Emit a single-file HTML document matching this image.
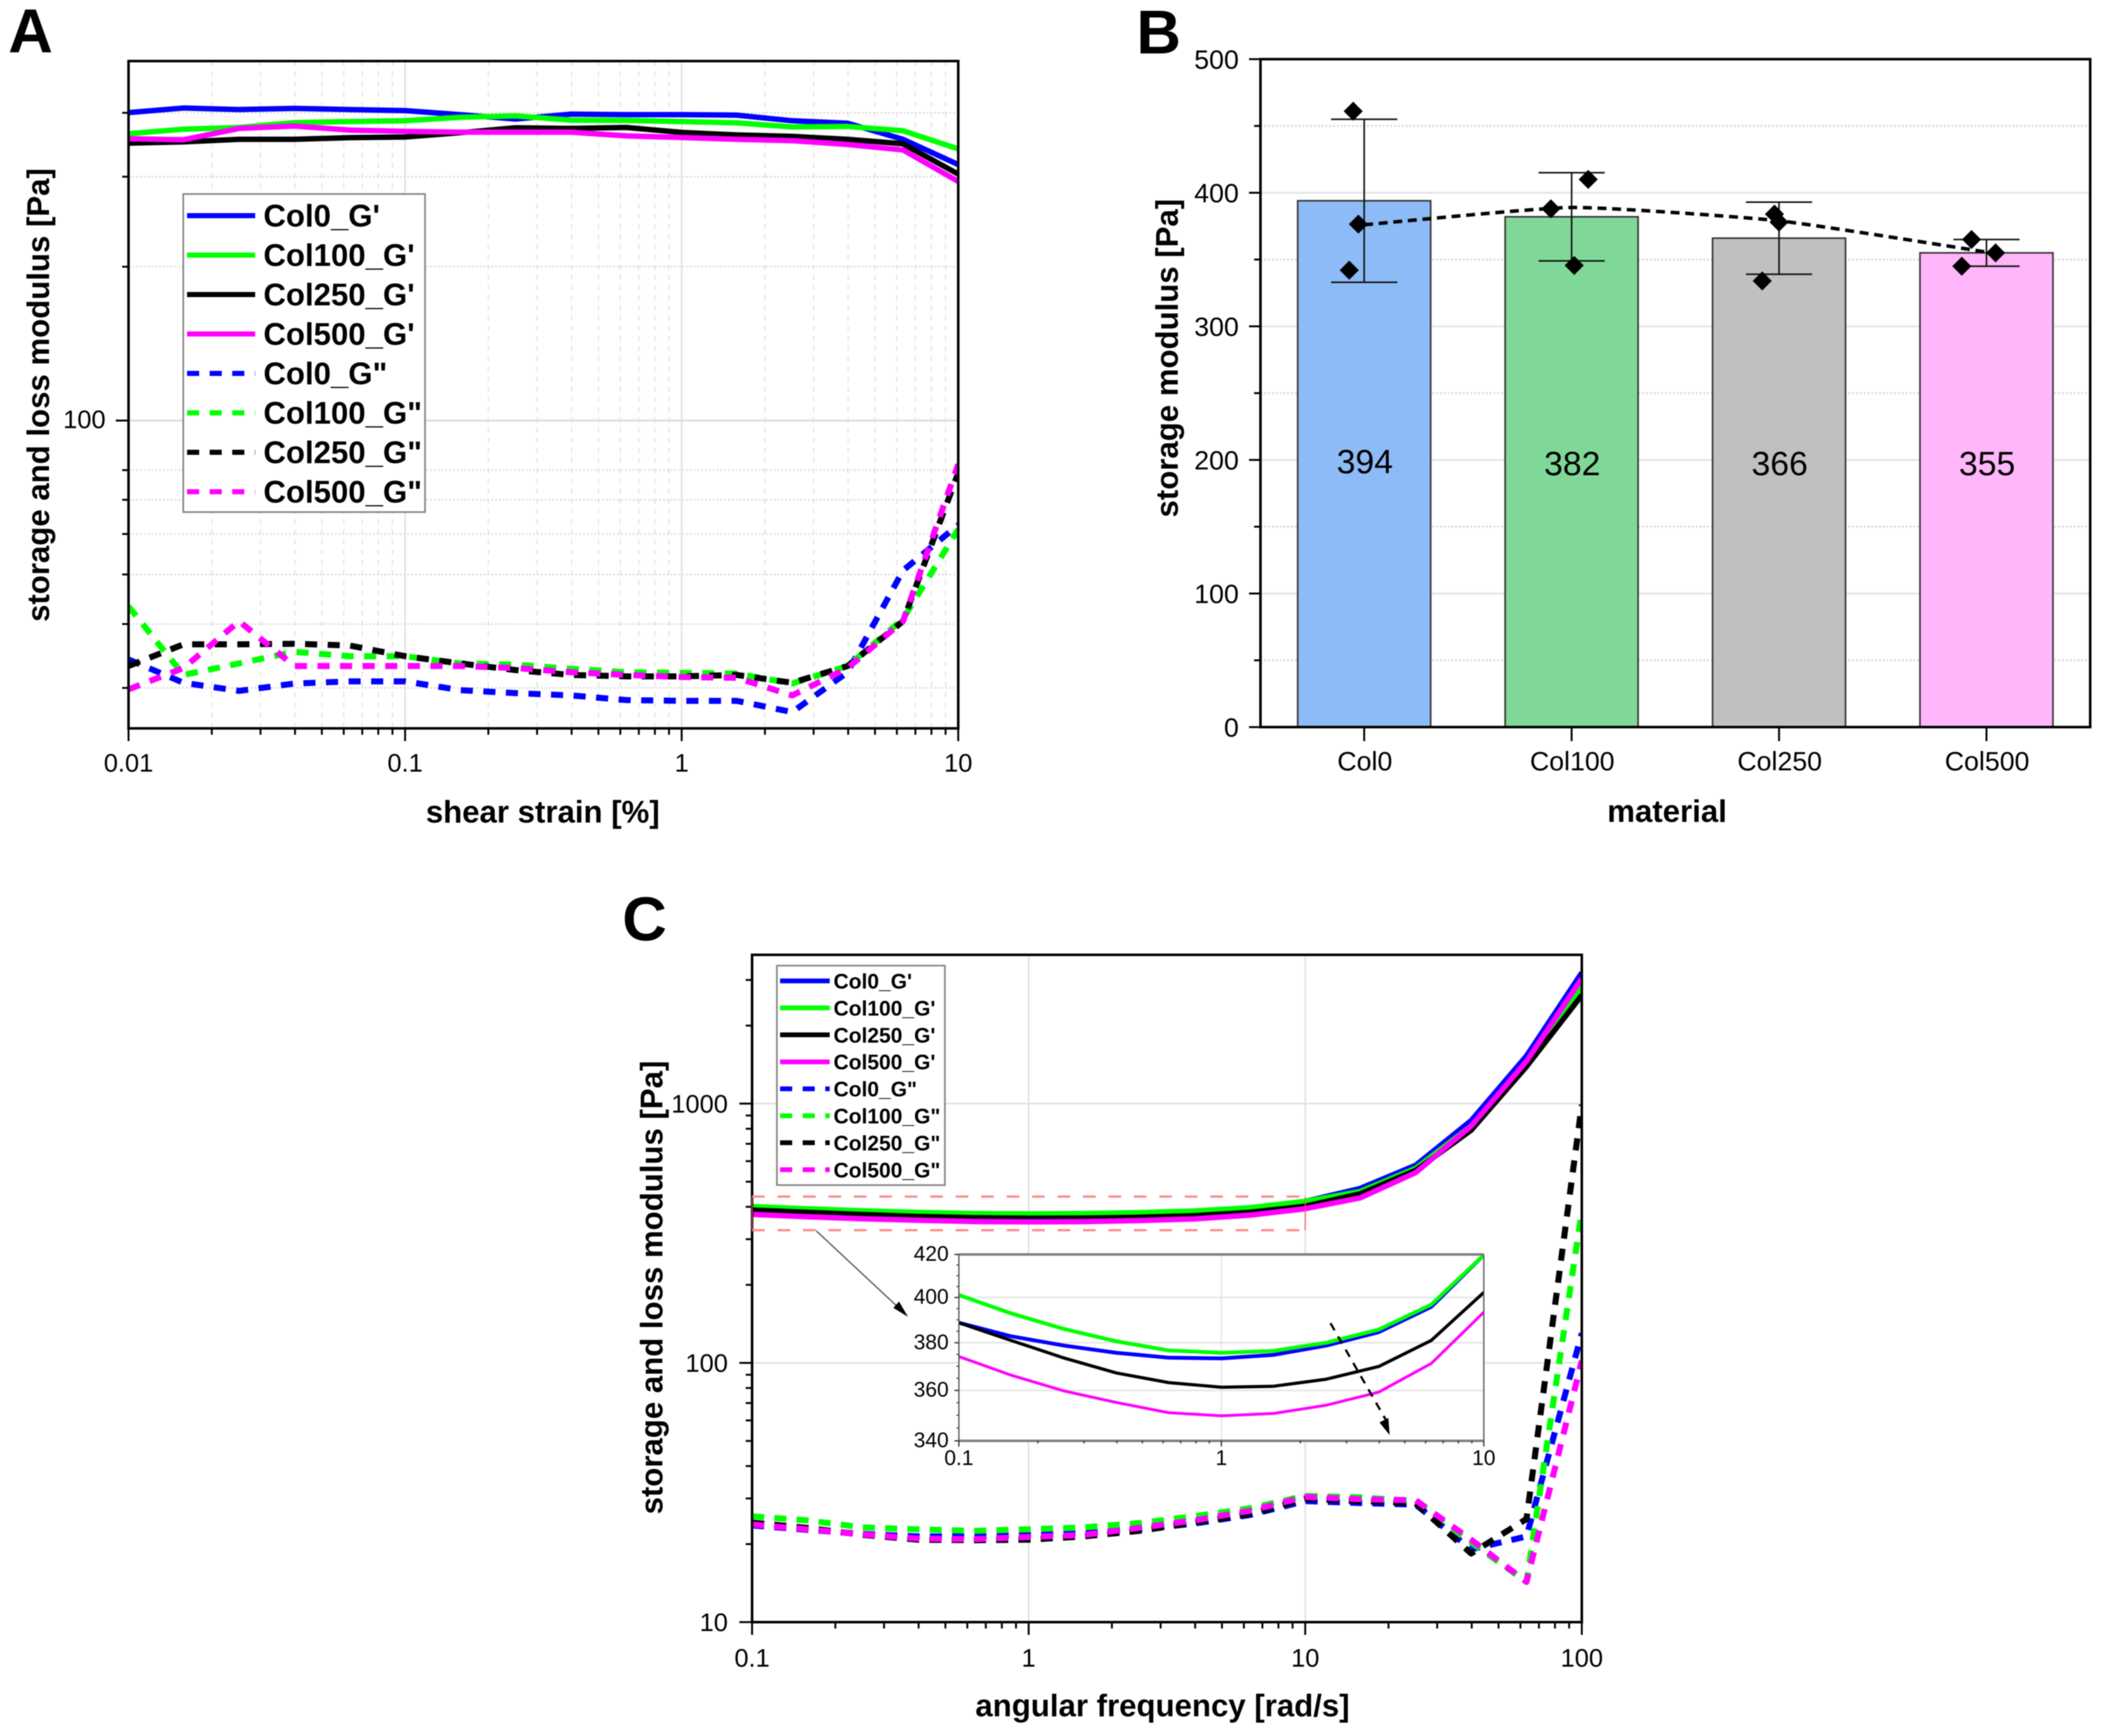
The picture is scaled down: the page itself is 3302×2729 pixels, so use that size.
<!DOCTYPE html>
<html lang="en">
<head>
<meta charset="utf-8">
<title>Rheology of collagen-containing materials</title>
<style>
html,body{margin:0;padding:0;background:#fff}
svg{display:block;font-family:"Liberation Sans",Arial,sans-serif;filter:blur(0.7px)}
.ttl{font-weight:700;font-size:49px;fill:#000}
.ltr{font-weight:700;font-size:97px;fill:#000}
</style>
</head>
<body>
<svg id="figure" xmlns="http://www.w3.org/2000/svg" width="3302" height="2729" viewBox="0 0 3302 2729">
  <defs>
    <clipPath id="clip-a"><rect x="202" y="96" width="1304" height="1049"/></clipPath>
    <clipPath id="clip-c"><rect x="1182" y="1501" width="1304" height="1049"/></clipPath>
    <clipPath id="clip-i"><rect x="1507" y="1972" width="825" height="293"/></clipPath>
  </defs>
  <rect width="3302" height="2729" fill="#fff"/>

  <g id="panel-a"></g>
  <g id="panel-b"></g>
  <g id="panel-c"></g>

  <text class="ltr" x="13" y="82">A</text>
  <text class="ltr" x="1786" y="84">B</text>
  <text class="ltr" x="978" y="1478">C</text>

  <text class="ttl" transform="translate(77,621) rotate(-90)" text-anchor="middle">storage and loss modulus [Pa]</text>
  <text class="ttl" x="853" y="1293" text-anchor="middle">shear strain [%]</text>
  <text class="ttl" transform="translate(1851,563) rotate(-90)" text-anchor="middle">storage modulus [Pa]</text>
  <text class="ttl" x="2620" y="1292" text-anchor="middle">material</text>
  <text class="ttl" transform="translate(1041,2024) rotate(-90)" text-anchor="middle">storage and loss modulus [Pa]</text>
  <text class="ttl" x="1827" y="2698" text-anchor="middle">angular frequency [rad/s]</text>
</svg>

<script>
/* ---------- Panel A data: amplitude sweep ---------- */
const strainValues = [0.01,0.0158,0.0251,0.0398,0.0631,0.1,0.158,0.251,0.398,0.631,1,1.58,2.51,3.98,6.31,10];
const aCol0Storage   = [400.4,408.8,406,408,406,404,396.6,389,397.7,396.6,396.6,395.8,386,381.7,355,316.8];
const aCol100Storage = [364,371.5,374.4,382.8,384.6,386,392,394.6,387,386.5,384.6,382.4,375.4,376.2,369,340];
const aCol250Storage = [349,351,355,355,357.7,358.7,365.6,373.9,372.8,374.4,366.3,362.1,359.7,355,348,303.5];
const aCol500Storage = [356,354.3,372.8,376.9,370.1,368,366.7,366.7,366.7,360.5,358,355,352.9,346.9,338.4,293.6];
const aCol0Loss   = [34.1,30.7,29.6,30.6,30.9,30.9,29.7,29.3,29.0,28.4,28.3,28.3,26.9,32.2,50.9,62.5];
const aCol100Loss = [43.3,31.8,33.5,35.3,34.6,34.6,33.5,33.3,32.7,32.2,32.1,32.0,30.6,33.1,40.9,61.3];
const aCol250Loss = [33.1,36.5,36.5,36.6,36.3,34.6,33.5,32.5,31.8,31.6,31.6,31.8,30.7,33.1,40.5,79.0];
const aCol500Loss = [29.8,32.8,40.5,33.1,33.1,33.1,33.1,32.8,32.2,31.8,31.5,31.4,29.0,32.8,40.5,82.1];
const aXTickLabels = ["0.01","0.1","1","10"];
const aXMajorTicks = [0.01,0.1,1,10];
const aYMajorTicks = [100];
const aYMinorTicks = [30,40,50,60,70,80,200,300,400];

/* ---------- Panel B data: storage modulus bars ---------- */
const bCategories = ["Col0","Col100","Col250","Col500"];
const bMeans = [394,382,366,355];
const bErrorUpper = [455,415,393,365];
const bErrorLower = [333,349,339,345];
const bReplicates = [[461,376.5,342],[388,410,345.6],[384,378,334],[365,355,345]];
const bJitter = [[-0.053,-0.028,-0.072],[-0.1,0.08,0.0125],[-0.022,0,-0.081],[-0.072,0.044,-0.119]];
const bTrend = [376,389,379,355.6];
const bYMajorTicks = [0,100,200,300,400,500];
const bYMinorTicks = [50,150,250,350,450];

/* ---------- Panel C data: frequency sweep ---------- */
const freqValues = [0.1,0.158,0.251,0.398,0.631,1,1.58,2.51,3.98,6.31,10,15.8,25.1,39.8,63.1,100];
const cCol0Storage   = [388.7,382.8,378.8,375.7,373.6,373.3,374.8,378.8,384.6,395.8,419.7,471,579,860,1528,3200];
const cCol100Storage = [401.1,392.9,386,380.6,376.7,375.7,376.5,380,385.7,396.8,419.7,458,563,820,1417,2800];
const cCol250Storage = [388.7,381,373.5,367.2,363.2,361.3,361.7,364.6,369.9,381,402.3,449,553,790,1390,2620];
const cCol500Storage = [374.1,366.3,359.8,355.1,351,349.8,350.7,354,359.3,371.2,393.4,433,542,820,1457,3040];
const cCol0Loss   = [23.6,22.7,21.9,21.4,21.4,21.7,22.1,22.8,24.0,25.9,29.3,28.8,28.4,19.1,21.4,130];
const cCol100Loss = [25.6,24.7,23.2,22.8,22.5,22.8,23.2,24.1,25.6,27.5,30.7,30.3,29.3,20.3,14.3,385];
const cCol250Loss = [24.2,23.1,21.7,20.8,20.7,20.8,21.4,22.5,24.2,26.1,29.9,29.3,28.7,18.4,25.0,990];
const cCol500Loss = [23.8,22.8,21.8,21.0,20.9,21.3,21.7,23.1,24.7,26.9,30.4,29.8,29.5,20.8,14.3,102];
const cXMajorTicks = [0.1,1,10,100];
const cXTickLabels = ["0.1","1","10","100"];
const cYMajorTicks = [10,100,1000];
const cYTickLabels = ["10","100","1000"];
const insetXMajorTicks = [0.1,1,10];
const insetXTickLabels = ["0.1","1","10"];
const insetYTicks = [340,360,380,400,420];
const zoomBoxValues = [325,438];
const zoomBoxFreq = [0.1,10];

/* ---------- Shared labels and styles ---------- */
const legendLabels = ["Col0_G'","Col100_G'","Col250_G'","Col500_G'",'Col0_G"','Col100_G"','Col250_G"','Col500_G"'];
const seriesColors = ["#0000ff","#00ff00","#000000","#ff00ff"];
const barColors = ["#8dbbf7","#80d898","#c0c0c0","#ffb6fb"];

const NS = "http://www.w3.org/2000/svg";
function mk(tag, attrs, parent, content) {
  const el = document.createElementNS(NS, tag);
  for (const k in attrs) el.setAttribute(k, attrs[k]);
  if (content !== undefined) el.textContent = content;
  parent.appendChild(el);
  return el;
}
function logScale(d0, d1, p0, p1) {
  const a = Math.log10(d0), b = Math.log10(d1);
  return v => p0 + (Math.log10(v) - a) / (b - a) * (p1 - p0);
}
function linScale(d0, d1, p0, p1) {
  return v => p0 + (v - d0) / (d1 - d0) * (p1 - p0);
}
function drawLine(parent, x1, y1, x2, y2, stroke, width, dash, name) {
  const el = mk("line", {x1, y1, x2, y2, stroke, "stroke-width": width}, parent);
  if (dash) el.setAttribute("stroke-dasharray", dash);
  
  
  return el;
}
function drawLabel(parent, x, y, str, size, anchor, name) {
  const el = mk("text", {x, y, "font-size": size, "text-anchor": anchor, fill: "#000"}, parent, str);
  
  
  return el;
}
function drawSeries(parent, xs, ys, sx, sy, color, width, dash, clip, name) {
  let d = "";
  xs.forEach((x, i) => { d += (i ? "L" : "M") + sx(x).toFixed(1) + " " + sy(ys[i]).toFixed(1); });
  const el = mk("path", {d, fill: "none", stroke: color, "stroke-width": width, "stroke-linejoin": "round", "clip-path": "url(#" + clip + ")"}, parent);
  if (dash) el.setAttribute("stroke-dasharray", dash);
  
  
  return el;
}
function drawFrame(parent, x, y, w, h, stroke, width, name) {
  const el = mk("rect", {x, y, width: w, height: h, fill: "none", stroke, "stroke-width": width}, parent);
  
  
  return el;
}
function decadeMinors(d0, d1) {
  const out = [];
  for (let e = Math.floor(Math.log10(d0)); e < Math.ceil(Math.log10(d1)); e++) {
    for (let m = 2; m <= 9; m++) {
      const v = m * Math.pow(10, e);
      if (v > d0 && v < d1) out.push(v);
    }
  }
  return out;
}
function drawLegend(parent, box, rowStart, rowStep, lineX0, lineX1, textX, fontSize, lineW, baseShift, name) {
  const g = mk("g", {}, parent);
  
  
  const bg = mk("rect", {x: box[0], y: box[1], width: box[2], height: box[3], fill: "#fff", stroke: "#808080", "stroke-width": 2.5}, g);
  
  
  legendLabels.forEach((label, i) => {
    const y = rowStart + i * rowStep;
    const dashed = i >= 4;
    drawLine(g, lineX0, y, lineX1, y, seriesColors[i % 4], lineW, dashed ? "19 16.5" : null, "legend-swatch");
    drawLabel(g, textX, y + baseShift, label, fontSize, "start", "legend-entry").setAttribute("font-weight", "700");
  });
}

/* ---------- Panel A ---------- */
(function () {
  const p = document.getElementById("panel-a");
  const L = 202, R = 1506, T = 96, B = 1145;
  const sx = logScale(0.01, 10, L, R);
  const sy = logScale(25, 505, B, T);
  decadeMinors(0.01, 10).forEach(v => drawLine(p, sx(v), T, sx(v), B, "#e4e4e4", 2, "8 8", "x-minor-gridline"));
  aYMinorTicks.forEach(v => drawLine(p, L, sy(v), R, sy(v), "#dcdcdc", 2.5, "3 3", "y-minor-gridline"));
  aXMajorTicks.slice(1, 3).forEach(v => drawLine(p, sx(v), T, sx(v), B, "#e0e0e0", 2.5, null, "x-major-gridline"));
  aYMajorTicks.forEach(v => drawLine(p, L, sy(v), R, sy(v), "#dcdcdc", 3, null, "y-major-gridline"));

  [aCol0Loss, aCol100Loss, aCol250Loss, aCol500Loss].forEach((s, i) =>
    drawSeries(p, strainValues, s, sx, sy, seriesColors[i], 9.5, "19 16.5", "clip-a", "series-loss-" + legendLabels[i].split("_")[0].toLowerCase()));
  [aCol0Storage, aCol100Storage, aCol250Storage, aCol500Storage].forEach((s, i) =>
    drawSeries(p, strainValues, s, sx, sy, seriesColors[i], 8.5, null, "clip-a", "series-storage-" + legendLabels[i].split("_")[0].toLowerCase()));

  drawFrame(p, L, T, R - L, B - T, "#000", 4, "panel-a-frame");
  decadeMinors(0.01, 10).forEach(v => drawLine(p, sx(v), B, sx(v), B + 10, "#000", 3, null, "x-minor-tick"));
  aXMajorTicks.forEach((v, i) => {
    drawLine(p, sx(v), B, sx(v), B + 20, "#000", 3, null, "x-major-tick");
    drawLabel(p, sx(v), 1213, aXTickLabels[i], 40, "middle", "x-tick-label");
  });
  aYMinorTicks.forEach(v => drawLine(p, L - 10, sy(v), L, sy(v), "#000", 3, null, "y-minor-tick"));
  aYMajorTicks.forEach(v => {
    drawLine(p, L - 20, sy(v), L, sy(v), "#000", 3, null, "y-major-tick");
    drawLabel(p, 166, sy(v) + 12, String(v), 40, "end", "y-tick-label");
  });
  drawLegend(p, [288, 305, 380, 500], 339, 62, 294, 401, 414, 49, 8, 17, "panel-a-legend");
})();

/* ---------- Panel B ---------- */
(function () {
  const p = document.getElementById("panel-b");
  const L = 1981, R = 3285, T = 93, B = 1143;
  const sy = linScale(0, 500, B, T);
  const sx = linScale(0, 4, L, R);
  const cx = i => sx(i + 0.5);
  const barW = 209;

  bYMinorTicks.forEach(v => drawLine(p, L, sy(v), R, sy(v), "#dadada", 3, "3 3", "y-minor-gridline"));
  bYMajorTicks.slice(1, 5).forEach(v => drawLine(p, L, sy(v), R, sy(v), "#e6e6e6", 3, null, "y-major-gridline"));

  bCategories.forEach((c, i) => {
    const bar = mk("rect", {x: cx(i) - barW / 2, y: sy(bMeans[i]), width: barW, height: sy(0) - sy(bMeans[i]), fill: barColors[i], stroke: "#333", "stroke-width": 2.5}, p);
    
    
    drawLabel(p, cx(i) + 1, i === 0 ? 744 : 747, String(bMeans[i]), 53, "middle", "bar-value-label");
  });

  bCategories.forEach((c, i) => {
    const x = cx(i);
    drawLine(p, x, sy(bErrorUpper[i]), x, sy(bErrorLower[i]), "#111", 2.5, null, "error-bar-stem");
    drawLine(p, x - 52, sy(bErrorUpper[i]), x + 52, sy(bErrorUpper[i]), "#111", 2.5, null, "error-bar-cap-upper");
    drawLine(p, x - 52, sy(bErrorLower[i]), x + 52, sy(bErrorLower[i]), "#111", 2.5, null, "error-bar-cap-lower");
  });

  const pts = bTrend.map((v, i) => [cx(i), sy(v)]);
  let d = "M" + pts[0][0] + " " + pts[0][1];
  for (let i = 0; i < pts.length - 1; i++) {
    const p0 = pts[Math.max(i - 1, 0)], p1 = pts[i], p2 = pts[i + 1], p3 = pts[Math.min(i + 2, pts.length - 1)];
    d += "C" + (p1[0] + (p2[0] - p0[0]) / 12) + " " + (p1[1] + (p2[1] - p0[1]) / 12) + " " +
         (p2[0] - (p3[0] - p1[0]) / 12) + " " + (p2[1] - (p3[1] - p1[1]) / 12) + " " + p2[0] + " " + p2[1];
  }
  const trend = mk("path", {d, fill: "none", stroke: "#000", "stroke-width": 5.5, "stroke-dasharray": "14 9"}, p);
  
  

  bReplicates.forEach((vals, i) => vals.forEach((v, j) => {
    const x = cx(i) + bJitter[i][j] * (R - L) / 4, y = sy(v), r = 15;
    const dm = mk("polygon", {points: [x, y - r, x + r, y, x, y + r, x - r, y].join(" "), fill: "#000"}, p);
    
    
  }));

  drawFrame(p, L, T, R - L, B - T, "#000", 4, "panel-b-frame");
  bYMinorTicks.forEach(v => drawLine(p, L - 10, sy(v), L, sy(v), "#000", 3, null, "y-minor-tick"));
  bYMajorTicks.forEach(v => {
    drawLine(p, L - 18, sy(v), L, sy(v), "#000", 3, null, "y-major-tick");
    drawLabel(p, 1947, sy(v) + 15, String(v), 42, "end", "y-tick-label");
  });
  bCategories.forEach((c, i) => {
    drawLine(p, cx(i), B, cx(i), B + 22, "#000", 3, null, "x-tick");
    drawLabel(p, cx(i) + 1, 1211, c, 42, "middle", "x-tick-label");
  });
})();

/* ---------- Panel C ---------- */
(function () {
  const p = document.getElementById("panel-c");
  const L = 1182, R = 2486, T = 1501, B = 2550;
  const sx = logScale(0.1, 100, L, R);
  const sy = logScale(10, 3750, B, T);

  cXMajorTicks.slice(1, 3).forEach(v => drawLine(p, sx(v), T, sx(v), B, "#e0e0e0", 2.5, null, "x-major-gridline"));
  cYMajorTicks.slice(1).forEach(v => drawLine(p, L, sy(v), R, sy(v), "#e0e0e0", 2.5, null, "y-major-gridline"));

  [cCol0Loss, cCol100Loss, cCol250Loss, cCol500Loss].forEach((s, i) =>
    drawSeries(p, freqValues, s, sx, sy, seriesColors[i], 9.5, "19 16", "clip-c", "series-loss-" + legendLabels[i].split("_")[0].toLowerCase()));
  [cCol0Storage, cCol100Storage, cCol250Storage, cCol500Storage].forEach((s, i) =>
    drawSeries(p, freqValues, s, sx, sy, seriesColors[i], 8.5, null, "clip-c", "series-storage-" + legendLabels[i].split("_")[0].toLowerCase()));

  drawFrame(p, L, T, R - L, B - T, "#000", 4, "panel-c-frame");
  decadeMinors(0.1, 100).forEach(v => drawLine(p, sx(v), B, sx(v), B + 10, "#000", 3, null, "x-minor-tick"));
  cXMajorTicks.forEach((v, i) => {
    drawLine(p, sx(v), B, sx(v), B + 20, "#000", 3, null, "x-major-tick");
    drawLabel(p, sx(v), 2620, cXTickLabels[i], 40, "middle", "x-tick-label");
  });
  decadeMinors(10, 3750).forEach(v => drawLine(p, L - 10, sy(v), L, sy(v), "#000", 3, null, "y-minor-tick"));
  cYMajorTicks.forEach((v, i) => {
    drawLine(p, L - 20, sy(v), L, sy(v), "#000", 3, null, "y-major-tick");
    drawLabel(p, 1144, sy(v) + 14, cYTickLabels[i], 40, "end", "y-tick-label");
  });

  /* zoom region marker */
  const zx0 = sx(zoomBoxFreq[0]), zx1 = sx(zoomBoxFreq[1]);
  const zy0 = sy(zoomBoxValues[0]), zy1 = sy(zoomBoxValues[1]);
  drawLine(p, zx0, zy1, zx1, zy1, "#ff8a8a", 3.5, "20 20", "zoom-box-top");
  drawLine(p, zx0, zy0, zx1, zy0, "#ff8a8a", 3.5, "20 20", "zoom-box-bottom");
  drawLine(p, zx0, zy0, zx0, zy1, "#ff5050", 1.5, null, "zoom-box-left");
  drawLine(p, zx1, zy0, zx1, zy1, "#ff5050", 1.5, null, "zoom-box-right");

  /* pointer arrow from the zoom region to the inset */
  drawLine(p, 1283, 1935, 1420, 2063, "#555", 2, null, "zoom-arrow-shaft");
  const zh = mk("polygon", {points: "1427,2070 1404,2056 1413,2046", fill: "#000"}, p);
  
  

  drawLegend(p, [1221, 1518, 264, 345], 1542, 42.4, 1226, 1304, 1310, 33, 7.5, 12, "panel-c-legend");

  /* inset */
  const ig = mk("g", {}, p);
  
  
  const iL = 1507, iR = 2332, iT = 1972, iB = 2265;
  const ix = logScale(0.1, 10, iL, iR);
  const iy = logScale(340, 420, iB, iT);
  const bg = mk("rect", {x: iL, y: iT, width: iR - iL, height: iB - iT, fill: "#fff"}, ig);
  
  
  drawLine(ig, ix(1), iT, ix(1), iB, "#e4e4e4", 2, null, "inset-x-gridline");
  insetYTicks.slice(1, 4).forEach(v => drawLine(ig, iL, iy(v), iR, iy(v), "#e4e4e4", 2.5, null, "inset-y-gridline"));

  const insetFreq = freqValues.slice(0, 11);
  const insetSeries = [cCol0Storage, cCol100Storage, cCol250Storage, cCol500Storage];
  const insetWidths = [6, 6, 5, 4.5];
  insetSeries.forEach((s, i) =>
    drawSeries(ig, insetFreq, s.slice(0, 11), ix, iy, seriesColors[i], insetWidths[i], null, "clip-i", "inset-series-" + legendLabels[i].split("_")[0].toLowerCase()));

  drawLine(ig, iL, iT, iR, iT, "#808080", 4, null, "inset-top-axis");
  drawLine(ig, iL, iB, iR, iB, "#808080", 4, null, "inset-bottom-axis");
  drawLine(ig, iL, iT, iL, iB, "#555", 2, null, "inset-left-axis");
  drawLine(ig, iR, iT, iR, iB, "#555", 2, null, "inset-right-axis");
  decadeMinors(0.1, 10).forEach(v => drawLine(ig, ix(v), iB, ix(v), iB + 4, "#333", 2, null, "inset-x-minor-tick"));
  insetXMajorTicks.forEach((v, i) => {
    drawLine(ig, ix(v), iB, ix(v), iB + 9, "#333", 2, null, "inset-x-major-tick");
    drawLabel(ig, ix(v), 2303, insetXTickLabels[i], 33, "middle", "inset-x-tick-label");
  });
  insetYTicks.forEach(v => {
    drawLine(ig, iL - 7, iy(v), iL, iy(v), "#333", 2, null, "inset-y-major-tick");
    drawLabel(ig, 1491, iy(v) + 10, String(v), 33, "end", "inset-y-tick-label");
  });
  for (let v = 345; v < 420; v += 5) {
    drawLine(ig, iL - 4, iy(v), iL, iy(v), "#333", 1.5, null, "inset-y-minor-tick");
  }

  /* trend arrow inside the inset */
  drawLine(ig, 2091, 2080, 2178, 2232, "#000", 3.5, "13 11", "trend-arrow-shaft");
  const th = mk("polygon", {points: "2184,2256 2168,2236 2182,2229", fill: "#000"}, ig);
  
  
})();
</script>
</body>
</html>
